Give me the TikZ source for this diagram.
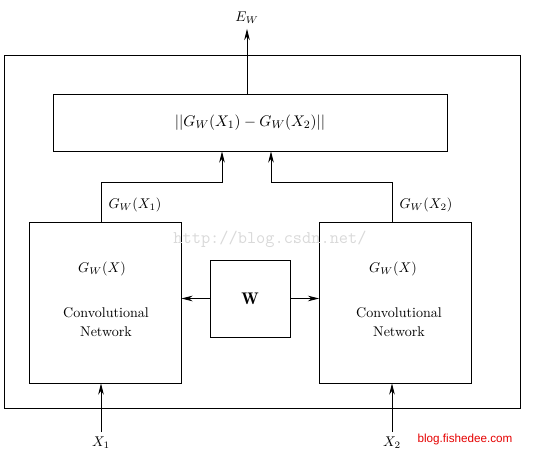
\documentclass[tikz,border=0pt]{standalone}
\usepackage{fontspec}
\usetikzlibrary{arrows.meta,positioning}
\newfontfamily\sitefont{Liberation Sans}
\begin{document}
\begin{tikzpicture}
[semithick, >={Stealth[length=2.8mm, width=1.4mm]}]
\tikzstyle{block}=[draw, inner sep=0mm]
\tikzstyle{wmark}=[text=gray!30, font=\ttfamily\fontsize{12.7}{14}\selectfont]
\useasboundingbox (0,0) rectangle (13.85,11.4);

\node[block, minimum width=12.9cm, minimum height=8.825cm]	(frame)	at (6.55,5.6125)	{};
\node[block, minimum width=9.85cm, minimum height=1.425cm, font=\fontsize{11}{13}\selectfont]	(dist)	at (6.25,8.3375)	{$||G_W(X_1)-G_W(X_2)||$};
\node[block, minimum width=3.8cm, minimum height=4.025cm]	(net1)	at (2.625,3.8375)	{};
\node[block, minimum width=3.8cm, minimum height=4.025cm]	(net2)	at (9.8875,3.8375)	{};
\node[block, minimum width=2cm, minimum height=1.925cm, font=\large]	(W)	at (6.25,3.9375)	{$\mathbf{W}$};

\node	(g1)	at (2.55,4.675)	{$G_W(X)$};
\node[align=center]	(cn1)	at (2.65,3.35)	{Convolutional\\[1.5pt]Network};
\node	(g2)	at (9.825,4.675)	{$G_W(X)$};
\node[align=center]	(cn2)	at (9.975,3.35)	{Convolutional\\[1.5pt]Network};

\node	(Ew)	at (6.175,10.95)	{$E_W$};
\node	(X1)	at (2.525,0.325)	{$X_1$};
\node	(X2)	at (9.8,0.325)	{$X_2$};
\node	(out1)	at (3.375,6.275)	{$G_W(X_1)$};
\node	(out2)	at (10.65,6.275)	{$G_W(X_2)$};

\coordinate	(o1)	at ([xshift=-1mm]net1.north);
\coordinate	(o2)	at ([xshift=-0.875mm]net2.north);
\coordinate	(in1)	at ([xshift=-7mm]dist.south);
\coordinate	(in2)	at ([xshift=5.25mm]dist.south);
\coordinate	(eo)	at ([xshift=-0.75mm]dist.north);

\draw [->] (o1) -- ++(0,0.975) -| (in1);
\draw [->] (o2) -- ++(0,0.975) -| (in2);
\draw [->] (eo) -- (eo |- Ew.south);
\draw [->] (W.west) -- (W.west -| net1.east);
\draw [->] (W.east) -- (W.east -| net2.west);
\draw [->] (X1.north) -- (X1.north |- net1.south);
\draw [->] (X2.north) -- (X2.north |- net2.south);

\node[wmark]	(csdn)	at (6.75,5.425)	{http://blog.csdn.net/};
\node[text=red!90!black, font=\sitefont\fontsize{8.3}{10}\selectfont]	(site)	at (11.625,0.425)	{blog.fishedee.com};
\end{tikzpicture}
\end{document}
